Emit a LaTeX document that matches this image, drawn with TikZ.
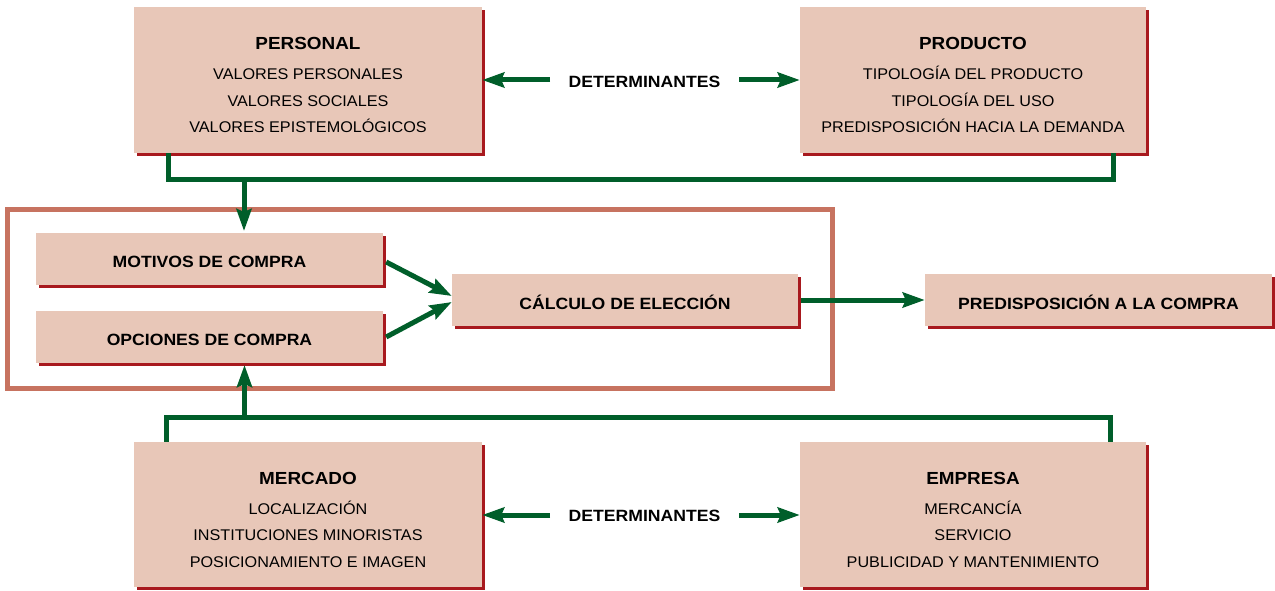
\documentclass[tikz,border=0pt]{standalone}
\usepackage{fontspec}
\setmainfont{Liberation Sans}
\newfontfamily\hdfont[FakeStretch=1.08]{Liberation Sans}
\newfontfamily\bodyfont[FakeStretch=1.045]{Liberation Sans}
\usetikzlibrary{arrows.meta,shadows,calc}
\definecolor{boxfill}{HTML}{E8C7B8}
\definecolor{boxshade}{HTML}{A8191E}
\definecolor{flow}{HTML}{005E2A}
\definecolor{framec}{HTML}{C77360}
% bold heading text, with an optional size
\newcommand{\hd}[2][16.3]{{\hdfont\bfseries\fontsize{#1}{20}\selectfont #2}}
% heading lowered a little inside its box, keeping the box's own size
\newcommand{\hdlow}[1]{\raisebox{-2.5pt}[\height][\depth]{\hd{#1}}}
\tikzset{
  box/.style={fill=boxfill, draw=none, inner sep=0pt,
    drop shadow={shadow xshift=3pt, shadow yshift=-3pt, fill=boxshade, opacity=1}},
  bigbox/.style={box, minimum width=348pt, minimum height=146pt},
  smallbox/.style={box, minimum width=347pt, minimum height=52pt},
  txt/.style={align=center, inner sep=0pt, font=\bodyfont\fontsize{15.5}{26.5}\selectfont},
  conn/.style={draw=flow, line width=5pt},
  arr/.style={conn, -{Stealth[length=22pt, width=15pt, inset=3pt]}},
}
\begin{document}
\begin{tikzpicture}[x=1pt, y=-1pt]
\useasboundingbox (0,0) rectangle (1275,591);

% outer frame round the choice stage
\draw[framec, line width=5pt] (7,209) rectangle (832,388);

% determinant blocks
\node[bigbox] (personal) at (308,80) {};
\node[bigbox, minimum width=346pt] (producto) at (973,80) {};
\node[bigbox, minimum height=145pt] (mercado) at (308,514.5) {};
\node[bigbox, minimum width=346pt, minimum height=145pt] (empresa) at (973,514.5) {};

\node[txt] (personal-t) at ([yshift=-5pt]personal.center)
  {\hd[17.5]{PERSONAL}\\[3.5pt] VALORES PERSONALES\\ VALORES SOCIALES\\ VALORES EPISTEMOLÓGICOS};
\node[txt] (producto-t) at ([yshift=-5pt]producto.center)
  {\hd[17.5]{PRODUCTO}\\[3.5pt] TIPOLOGÍA DEL PRODUCTO\\ TIPOLOGÍA DEL USO\\ PREDISPOSICIÓN HACIA LA DEMANDA};
\node[txt] (mercado-t) at ([yshift=-5pt]mercado.center)
  {\hd[17.5]{MERCADO}\\[3.5pt] LOCALIZACIÓN\\ INSTITUCIONES MINORISTAS\\ POSICIONAMIENTO E IMAGEN};
\node[txt] (empresa-t) at ([yshift=-5pt]empresa.center)
  {\hd[17.5]{EMPRESA}\\[3.5pt] MERCANCÍA\\ SERVICIO\\ PUBLICIDAD Y MANTENIMIENTO};

% choice stage
\node[smallbox] (motivos) at (209.5,259) {\hdlow{MOTIVOS DE COMPRA}};
\node[smallbox] (opciones) at (209.5,337) {\hdlow{OPCIONES DE COMPRA}};
\node[smallbox, minimum width=346pt] (calculo) at (625,300) {\hdlow{CÁLCULO DE ELECCIÓN}};
\node[smallbox] (predis) at (1098.5,300) {\hdlow{PREDISPOSICIÓN A LA COMPRA}};

% "determinantes" labels
\node (det-top) at (644.5,81.5) {\hd{DETERMINANTES}};
\node (det-bot) at (644.5,516) {\hd{DETERMINANTES}};

% top collector
\coordinate (tl) at (168,180);
\coordinate (tm) at (244,180);
\coordinate (tr) at (1113,180);
\coordinate (tin) at (244,231);
\draw[conn] (personal.south -| tl) -- (tl) -- (tr) -- (producto.south -| tr);
\draw[arr] (tm) -- (tin);

% bottom collector
\coordinate (bl) at (166,417.5);
\coordinate (bm) at (244.5,417.5);
\coordinate (br) at (1110,417.5);
\coordinate (bin) at (244.5,365);
\draw[conn] (mercado.north -| bl) -- (bl) -- (br) -- (empresa.north -| br);
\draw[arr] (bm) -- (bin);

% determinant arrows
\coordinate (dtl) at (550,80);
\coordinate (dtr) at (739,80);
\coordinate (dbl) at (550,515);
\coordinate (dbr) at (739,515);
\draw[arr] (dtl) -- (personal.east |- dtl);
\draw[arr] (dtr) -- (producto.west |- dtr);
\draw[arr] (dbl) -- (mercado.east |- dbl);
\draw[arr] (dbr) -- (empresa.west |- dbr);

% into the choice calculation
\draw[arr] ([yshift=-3pt]motivos.east) ++(3,0) -- ([yshift=4pt]calculo.west);
\draw[arr] ([yshift=0pt]opciones.east) ++(3,0) -- ([yshift=-2pt]calculo.west);
\draw[arr] ([xshift=3pt]calculo.east) -- (predis.west);
\end{tikzpicture}
\end{document}
